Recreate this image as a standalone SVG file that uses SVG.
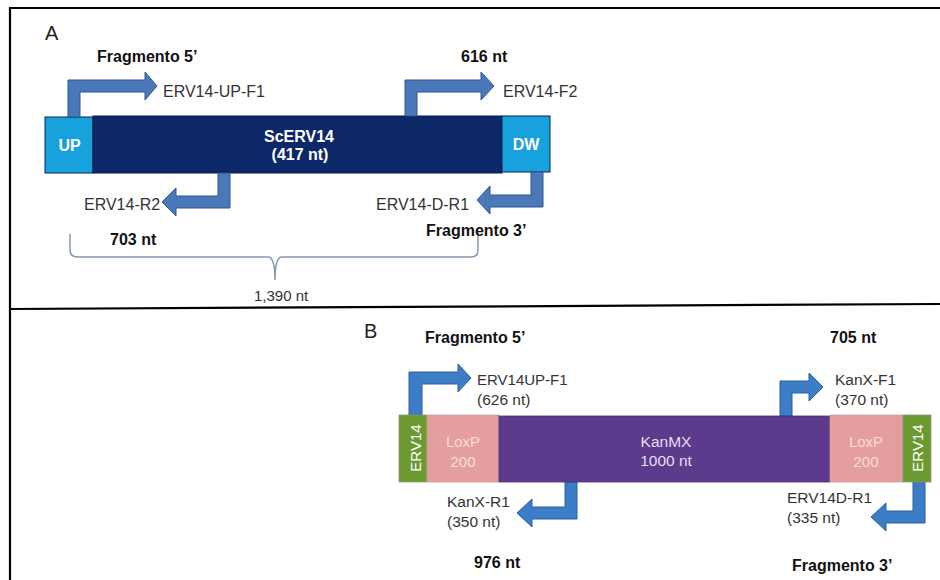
<svg xmlns="http://www.w3.org/2000/svg" width="940" height="580" viewBox="0 0 940 580">
<style>
text{font-family:"Liberation Sans",Arial,sans-serif}
.lbl{font-size:15.5px;fill:#333}
.la{font-size:16px;fill:#333}
.b{font-size:16px;font-weight:bold;fill:#111}
.wb{font-size:16px;font-weight:bold;fill:#fff}
.arrA{fill:#4A78B8;stroke:#2E5590;stroke-width:1}
.arrB{fill:#3D7CC6;stroke:#2A5E9E;stroke-width:1}
.frame{stroke:#000;stroke-width:2.2;fill:none}
</style>
<rect width="940" height="580" fill="#fff"/>
<g id="frame">
<path class="frame" d="M10,580 V8 H940"/>
<path class="frame" d="M10,309 L940,304"/>
</g>
<!-- Panel A -->
<text x="45" y="40" style="font-size:20px;fill:#222">A</text>
<g id="UP"><rect x="45" y="117" width="48" height="56" fill="#17A2DE" stroke="#0B2250" stroke-width="1"/><text class="wb" x="69.5" y="151" text-anchor="middle">UP</text></g>
<g id="ScERV14"><rect x="93" y="116" width="409" height="57" fill="#0C2868" stroke="#081A45" stroke-width="1"/><text class="wb" x="299" y="142" text-anchor="middle">ScERV14</text><text class="wb" x="300" y="160" text-anchor="middle">(417 nt)</text></g>
<g id="DW"><rect x="502" y="116" width="48" height="56" fill="#17A2DE" stroke="#0B2250" stroke-width="1"/><text class="wb" x="526" y="150" text-anchor="middle">DW</text></g>
<g id="connectors">
<polygon class="arrA" points="68,117 68,80 145,80 145,72 157,86 145,100 145,92 80,92 80,117"/>
<polygon class="arrA" points="405,116 405,80 481,80 481,72 494,86 481,100 481,92 417,92 417,116"/>
<polygon class="arrA" points="230,173 230,208 176,208 176,216 162,202 176,188 176,196 218,196 218,173"/>
<polygon class="arrA" points="543,172 543,207 490,207 490,214 477,200 490,186 490,195 531,195 531,172"/>
<polygon class="arrB" points="409,415 409,372 458,372 458,364 471,378 458,392 458,384 422,384 422,415"/>
<polygon class="arrB" points="780,416 780,381 809,381 809,373 823,387 809,401 809,393 792,393 792,416"/>
<polygon class="arrB" points="577,482 577,519 532,519 532,527 517,513 532,499 532,507 565,507 565,482"/>
<polygon class="arrB" points="925,482 925,523 886,523 886,531 871,517 886,503 886,511 913,511 913,482"/>
<path d="M70,234 V250 Q70,257 78,257 H268 Q275,257 275,280 Q275,257 282,257 H471 Q478,257 478,250 V233" fill="none" stroke="#8496AE" stroke-width="1.5"/>
</g>
<text class="b" x="97" y="62">Fragmento 5’</text>
<text class="la" x="163" y="97">ERV14-UP-F1</text>
<text class="b" x="461" y="62">616 nt</text>
<text class="la" x="503" y="97">ERV14-F2</text>
<text class="la" x="84" y="210">ERV14-R2</text>
<text class="la" x="376" y="210">ERV14-D-R1</text>
<text class="b" x="110" y="245">703 nt</text>
<text class="b" x="426" y="236">Fragmento 3’</text>
<text class="lbl" x="254" y="301" style="font-size:15px">1,390 nt</text>
<!-- Panel B -->
<text x="364" y="338" style="font-size:20px;fill:#222">B</text>
<text class="b" x="425" y="343">Fragmento 5’</text>
<text class="b" x="830" y="343">705 nt</text>
<g id="ERV14-left"><rect x="399" y="415" width="28" height="67" fill="#6A9A30" stroke="#8a9a7a" stroke-width="0.8"/><text x="415" y="448" transform="rotate(-90 415 448)" text-anchor="middle" dominant-baseline="central" style="font-size:15px;fill:#fff">ERV14</text></g>
<g id="LoxP-left"><rect x="427" y="415" width="72" height="67" fill="#E59E9E" stroke="#c9a0a0" stroke-width="0.8"/><text x="463" y="447" text-anchor="middle" style="font-size:15px;fill:#F6DCDC">LoxP</text><text x="463" y="467" text-anchor="middle" style="font-size:15px;fill:#F6DCDC">200</text></g>
<g id="KanMX"><rect x="499" y="416" width="331" height="66" fill="#5C3A8C" stroke="#4a3070" stroke-width="0.8"/><text x="666" y="447" text-anchor="middle" style="font-size:15.5px;fill:#E6DEF2">KanMX</text><text x="666" y="466" text-anchor="middle" style="font-size:15.5px;fill:#E6DEF2">1000 nt</text></g>
<g id="LoxP-right"><rect x="830" y="415" width="73" height="67" fill="#E59E9E" stroke="#c9a0a0" stroke-width="0.8"/><text x="866" y="447" text-anchor="middle" style="font-size:15px;fill:#F6DCDC">LoxP</text><text x="866" y="467" text-anchor="middle" style="font-size:15px;fill:#F6DCDC">200</text></g>
<g id="ERV14-right"><rect x="903" y="415" width="28" height="67" fill="#6A9A30" stroke="#8a9a7a" stroke-width="0.8"/><text x="917" y="448" transform="rotate(-90 917 448)" text-anchor="middle" dominant-baseline="central" style="font-size:15px;fill:#fff">ERV14</text></g>
<text class="lbl" x="477" y="385" style="font-size:15px">ERV14UP-F1</text>
<text class="lbl" x="477" y="405">(626 nt)</text>
<text class="lbl" x="835" y="385">KanX-F1</text>
<text class="lbl" x="835" y="405">(370 nt)</text>
<text class="lbl" x="447" y="507">KanX-R1</text>
<text class="lbl" x="447" y="527">(350 nt)</text>
<text class="lbl" x="787" y="503">ERV14D-R1</text>
<text class="lbl" x="787" y="523">(335 nt)</text>
<text class="b" x="474" y="568">976 nt</text>
<text class="b" x="792" y="571">Fragmento 3’</text>
</svg>
